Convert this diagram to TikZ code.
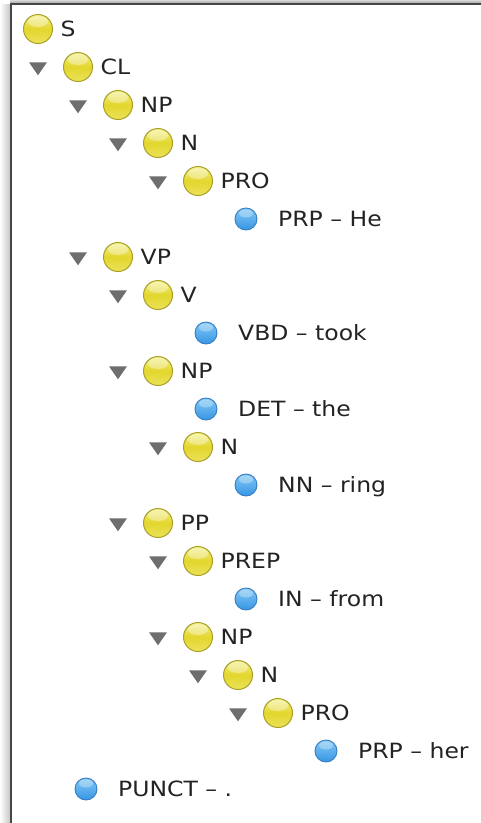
\documentclass[tikz,border=0pt]{standalone}
\usepackage{fontspec}
\setmainfont[FakeStretch=1.12]{DejaVu Sans}
\usetikzlibrary{shapes.geometric}
\definecolor{yelD}{RGB}{170,160,40}
\definecolor{yelT}{RGB}{245,240,140}
\definecolor{yelM}{RGB}{226,214,45}
\definecolor{yelB}{RGB}{236,226,90}
\definecolor{bluD}{RGB}{55,125,195}
\definecolor{bluT}{RGB}{130,200,245}
\definecolor{bluB}{RGB}{55,150,228}
\definecolor{txt}{RGB}{35,35,35}
\definecolor{trig}{RGB}{110,110,110}
\definecolor{frame}{RGB}{70,70,70}
\tikzset{
  yel/.style={circle, minimum width=29pt, inner sep=0pt, draw=yelD, line width=1pt,
    top color=yelT, bottom color=yelB, middle color=yelM,
    path picture={\fill[white,opacity=0.35] ([yshift=-7pt]path picture bounding box.north) ellipse (10pt and 5.5pt);}},
  blu/.style={circle, minimum width=22pt, inner sep=0pt, draw=bluD, line width=0.9pt,
    top color=bluT, bottom color=bluB,
    path picture={\fill[white,opacity=0.3] ([yshift=-5.5pt]path picture bounding box.north) ellipse (7pt and 4pt);}},
  tri/.style={isosceles triangle, isosceles triangle stretches, shape border rotate=270,
    minimum width=18pt, minimum height=13pt, inner sep=0pt, fill=trig},
  lbl/.style={anchor=west, inner sep=0pt, text height=15.3pt, text depth=0pt,
    text=txt, font=\fontsize{21}{24}\selectfont}
}
% internal node: name, depth, row, label
\newcommand\inode[4]{%
  \pgfmathsetmacro\cx{38+40*#2}\pgfmathsetmacro\cy{29+38*#3}%
  \node[tri] (#1t) at (\cx-40,\cy) {};
  \node[yel] (#1c) at (\cx,\cy) {};
  \node[lbl] (#1l) at (\cx+22.5,\cy) {#4};}
% leaf node: name, parent depth, row, label
\newcommand\lnode[4]{%
  \pgfmathsetmacro\cx{86+40*#2}\pgfmathsetmacro\cy{29+38*#3}%
  \node[blu] (#1c) at (\cx,\cy) {};
  \node[lbl] (#1l) at (\cx+32,\cy) {#4};}
\begin{document}
\begin{tikzpicture}[x=1pt,y=-1pt]
\useasboundingbox (0,0) rectangle (481,823);
\fill[white] (0,0) rectangle (481,823);
% frame with shadow
\shade[left color=white, right color=black!22] (0,4) rectangle (10,823);
\shade[top color=black!15, bottom color=black!35] (10,0) rectangle (481,3);
\draw[line width=2pt, frame] (11,823) -- (11,4) -- (481,4);
% root
\node[yel] (Sc) at (38,29) {};
\node[lbl] (Sl) at (60.5,29) {S};
\inode{CL}{1}{1}{CL}
\inode{NPa}{2}{2}{NP}
\inode{Na}{3}{3}{N}
\inode{PROa}{4}{4}{PRO}
\lnode{PRPa}{4}{5}{PRP – He}
\inode{VP}{2}{6}{VP}
\inode{V}{3}{7}{V}
\lnode{VBD}{3}{8}{VBD – took}
\inode{NPb}{3}{9}{NP}
\lnode{DET}{3}{10}{DET – the}
\inode{Nb}{4}{11}{N}
\lnode{NN}{4}{12}{NN – ring}
\inode{PP}{3}{13}{PP}
\inode{PREP}{4}{14}{PREP}
\lnode{IN}{4}{15}{IN – from}
\inode{NPc}{4}{16}{NP}
\inode{Nc}{5}{17}{N}
\inode{PROb}{6}{18}{PRO}
\lnode{PRPb}{6}{19}{PRP – her}
\lnode{PUNCT}{0}{20}{PUNCT – .}
\end{tikzpicture}
\end{document}
